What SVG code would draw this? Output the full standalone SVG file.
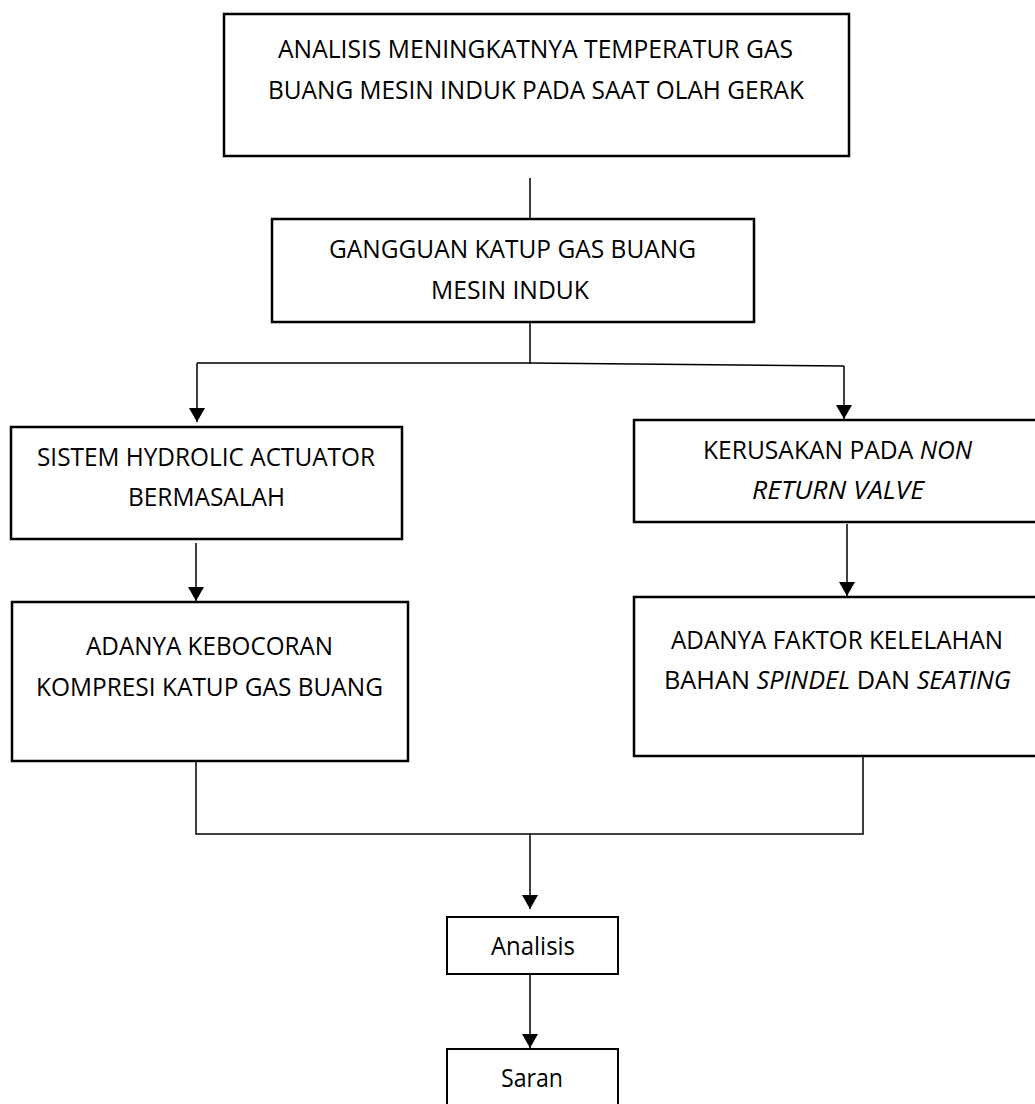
<svg xmlns="http://www.w3.org/2000/svg" width="1035" height="1104" viewBox="0 0 1035 1104">
<style>
.box{fill:#fff;stroke:#000;stroke-width:2.5}
.sbox{fill:#fff;stroke:#000;stroke-width:2}
.t{font-family:"Open Sans","Liberation Sans",sans-serif;font-size:25px;fill:#000}
.it{font-style:italic}
.c{fill:none;stroke:#000;stroke-width:1.5}
</style>
<defs>
<marker id="ah" markerUnits="userSpaceOnUse" markerWidth="15" markerHeight="16" refX="14" refY="8" orient="auto">
<path d="M0,0 L14,8 L0,16 z" fill="#000"/>
</marker>
</defs>
<rect width="1035" height="1104" fill="#fff"/>
<g id="connectors">
<line class="c" x1="530" y1="178" x2="530" y2="219"/>
<line class="c" x1="530" y1="322" x2="530" y2="364"/>
<polyline class="c" points="197,363 530,363 844,366"/>
<line class="c" x1="197" y1="363" x2="197" y2="422" marker-end="url(#ah)"/>
<line class="c" x1="844" y1="366" x2="844" y2="419" marker-end="url(#ah)"/>
<line class="c" x1="196" y1="543" x2="196" y2="601" marker-end="url(#ah)"/>
<line class="c" x1="847" y1="524" x2="847" y2="596" marker-end="url(#ah)"/>
<polyline class="c" points="196,761 196,834 863,834 863,756"/>
<line class="c" x1="530" y1="834" x2="530" y2="909" marker-end="url(#ah)"/>
<line class="c" x1="530" y1="974" x2="530" y2="1048" marker-end="url(#ah)"/>
</g>
<g id="n1">
<rect class="box" x="224" y="14" width="625" height="142"/>
<text class="t" x="278" y="58" textLength="515" lengthAdjust="spacingAndGlyphs">ANALISIS MENINGKATNYA TEMPERATUR GAS</text>
<text class="t" x="268" y="99" textLength="536" lengthAdjust="spacingAndGlyphs">BUANG MESIN INDUK PADA SAAT OLAH GERAK</text>
</g>
<g id="n2">
<rect class="box" x="272" y="219" width="482" height="103"/>
<text class="t" x="329" y="258" textLength="367" lengthAdjust="spacingAndGlyphs">GANGGUAN KATUP GAS BUANG</text>
<text class="t" x="431" y="299" textLength="158" lengthAdjust="spacingAndGlyphs">MESIN INDUK</text>
</g>
<g id="n3">
<rect class="box" x="11" y="427" width="391" height="112"/>
<text class="t" x="37" y="466" textLength="338" lengthAdjust="spacingAndGlyphs">SISTEM HYDROLIC ACTUATOR</text>
<text class="t" x="128" y="506" textLength="157" lengthAdjust="spacingAndGlyphs">BERMASALAH</text>
</g>
<g id="n4">
<rect class="box" x="12" y="602" width="396" height="159"/>
<text class="t" x="86" y="655" textLength="247" lengthAdjust="spacingAndGlyphs">ADANYA KEBOCORAN</text>
<text class="t" x="36" y="696" textLength="347" lengthAdjust="spacingAndGlyphs">KOMPRESI KATUP GAS BUANG</text>
</g>
<g id="n5">
<rect class="box" x="634" y="420" width="420" height="102"/>
<text class="t" x="703" y="459" textLength="269" lengthAdjust="spacingAndGlyphs">KERUSAKAN PADA <tspan class="it">NON</tspan></text>
<text class="t it" x="752" y="499" textLength="172" lengthAdjust="spacingAndGlyphs">RETURN VALVE</text>
</g>
<g id="n6">
<rect class="box" x="634" y="597" width="420" height="159"/>
<text class="t" x="671" y="649" textLength="332" lengthAdjust="spacingAndGlyphs">ADANYA FAKTOR KELELAHAN</text>
<text class="t" x="664" y="689" textLength="347" lengthAdjust="spacingAndGlyphs">BAHAN <tspan class="it">SPINDEL</tspan> DAN <tspan class="it">SEATING</tspan></text>
</g>
<g id="n7">
<rect class="sbox" x="447" y="917" width="171" height="57"/>
<text class="t" x="491" y="955" textLength="84" lengthAdjust="spacingAndGlyphs">Analisis</text>
</g>
<g id="n8">
<rect class="sbox" x="447" y="1049" width="171" height="70"/>
<text class="t" x="501" y="1087" textLength="62" lengthAdjust="spacingAndGlyphs">Saran</text>
</g>
</svg>
